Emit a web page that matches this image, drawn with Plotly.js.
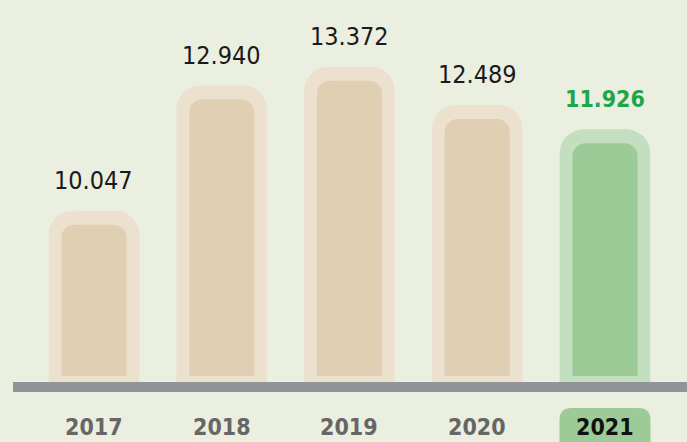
<!DOCTYPE html>
<html>
<head>
<meta charset="utf-8">
<script src="https://cdn.plot.ly/plotly-3.0.1.min.js"></script>
<style>
html,body{margin:0;padding:0;background:#ebefdf;}
#chart{width:687px;height:442px;}
</style>
</head>
<body>
<div id="chart"></div>
<script>
// Data
const years = ['2017', '2018', '2019', '2020', '2021'];
const values = [10.047, 12.940, 13.372, 12.489, 11.926];
const valueLabels = ['10.047', '12.940', '13.372', '12.489', '11.926'];
const highlightYear = '2021';

const NARROW = '"Liberation Sans Narrow", "DejaVu Sans Condensed", "Noto Sans", sans-serif';

const isHi = years.map(y => y === highlightYear);
const outerColors = isHi.map(h => h ? '#c4dfc0' : '#ece1cf');
const innerColors = isHi.map(h => h ? '#9dcb97' : '#e0cfb2');

const outer = {
  type: 'bar', x: years, y: values, xaxis: 'x', yaxis: 'y',
  width: 0.71,
  marker: {color: outerColors, cornerradius: 24, line: {width: 0}},
  hoverinfo: 'skip', showlegend: false
};
const inner = {
  type: 'bar', x: years, y: values, xaxis: 'x', yaxis: 'y2',
  width: 0.51,
  marker: {color: innerColors, cornerradius: 13, line: {width: 0}},
  hoverinfo: 'skip', showlegend: false
};

const annotations = [];
years.forEach((yr, i) => {
  annotations.push({
    x: i, y: values[i], xref: 'x', yref: 'y',
    text: isHi[i] ? '<b>' + valueLabels[i] + '</b>' : valueLabels[i],
    showarrow: false, yanchor: 'middle', yshift: 30, borderpad: 0,
    font: {family: NARROW, size: isHi[i] ? 23 : 25, color: isHi[i] ? '#1ea64b' : '#1a1a1a'}
  });
  annotations.push({
    x: i, y: 0, xref: 'x', yref: 'paper',
    text: '<b>' + yr + '</b>',
    showarrow: false, yanchor: 'middle', yshift: -45, borderpad: 0,
    font: {family: NARROW, size: 23, color: isHi[i] ? '#111111' : '#666666'}
  });
});

const hiIndex = years.indexOf(highlightYear);
const shapes = [{
  type: 'path', xref: 'x', yref: 'paper',
  xsizemode: 'pixel', ysizemode: 'pixel',
  xanchor: hiIndex, yanchor: 0,
  path: 'M -45.5,-80 L -45.5,-38 Q -45.5,-26 -33.5,-26 L 33.5,-26 Q 45.5,-26 45.5,-38 L 45.5,-80 Z',
  fillcolor: '#9dcb97', line: {width: 0}, layer: 'below'
}];

const layout = {
  width: 687, height: 442,
  margin: {l: 13, r: 0, t: 0, b: 60},
  paper_bgcolor: '#ebefdf', plot_bgcolor: 'rgba(0,0,0,0)',
  barmode: 'overlay',
  showlegend: false,
  xaxis: {
    type: 'category', range: [-0.634, 4.642], fixedrange: true,
    showgrid: false, zeroline: false, showticklabels: false, ticks: '',
    showline: true, linecolor: '#939498', linewidth: 10
  },
  yaxis: {
    domain: [0, 1], range: [6.093, 14.911], visible: false,
    showgrid: false, zeroline: false, fixedrange: true
  },
  yaxis2: {
    domain: [0.0157, 1], anchor: 'x', range: [6.554, 15.234], visible: false,
    showgrid: false, zeroline: false, fixedrange: true
  },
  annotations: annotations,
  shapes: shapes
};

Plotly.newPlot('chart', [outer, inner], layout, {displayModeBar: false, staticPlot: true});
</script>
</body>
</html>
